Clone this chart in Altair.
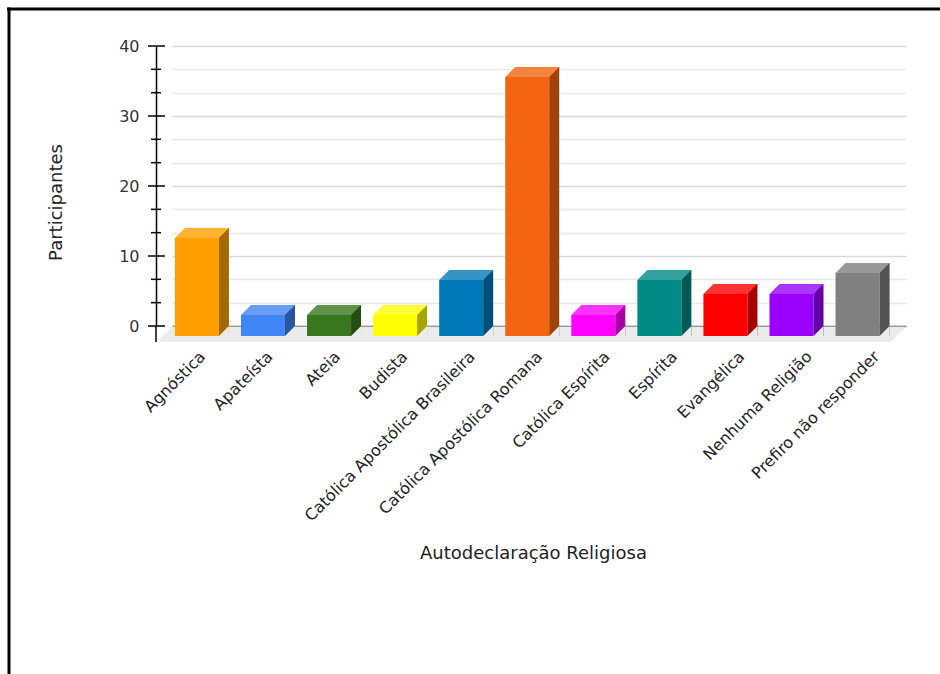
import altair as alt
import pandas as pd

categories = ["Agnóstica", "Apateísta", "Ateia", "Budista",
              "Católica Apostólica Brasileira", "Católica Apostólica Romana",
              "Católica Espírita", "Espírita", "Evangélica",
              "Nenhuma Religião", "Prefiro não responder"]
participants = [14, 3, 3, 3, 8, 37, 3, 8, 6, 6, 9]
major_ticks = [0, 10, 20, 30, 40]
minor_ticks = [10/3, 20/3, 40/3, 50/3, 70/3, 80/3, 100/3, 110/3]

front_colors = ["#FFA000", "#4285F4", "#38761D", "#FFFF00", "#0079B9", "#F46511",
                "#FF00FF", "#008B85", "#FF0000", "#9900FF", "#808080"]


def mix(hexc, f, target):
    h = hexc.lstrip("#")
    rgb = [int(h[i:i + 2], 16) for i in (0, 2, 4)]
    out = [round(c * (1 - f) + target * f) for c in rgb]
    return "#" + "".join(f"{c:02X}" for c in out)


top_colors = [mix(c, 0.2, 255) for c in front_colors]
side_colors = [mix(c, 0.35, 0) for c in front_colors]

FONT = "DejaVu Sans"
W, H = 734, 280
PL, PT = 172, 46
FLOOR = "#EBEBEB"

df = pd.DataFrame({"cat": categories, "v": participants, "base": [0] * len(categories)})
major_df = pd.DataFrame({"t": major_ticks})
minor_df = pd.DataFrame({"t": minor_ticks})
one = pd.DataFrame({"a": [0]})

xscale = alt.Scale(type="band", domain=categories, paddingInner=0.334,
                   paddingOuter=0.222, align=0.44)
label_scale = alt.Scale(type="point", domain=categories, padding=0.445, align=0.41)
yscale = alt.Scale(domain=[0, 40], nice=False)

x_axis = alt.Axis(orient="bottom", title="Autodeclaração Religiosa", labelAngle=-45,
                  labelFontSize=16, labelFont=FONT, labelColor="#222222", ticks=False,
                  labelPadding=22, labelLimit=400, domain=True, domainColor="#7A7A7A",
                  domainWidth=1.5, titleFont=FONT, titleFontSize=18,
                  titleFontWeight="normal", titleColor="#222222", titleX=361, titleY=232,
                  titleBaseline="alphabetic", titleAlign="center", grid=False)

y_axis = alt.Axis(title="Participantes", values=major_ticks + minor_ticks,
                  labelExpr="datum.value % 10 === 0 ? datum.label : ''",
                  offset=16, ticks=False, labelPadding=17, labelFontSize=16,
                  labelFont=FONT, labelColor="#333333", labelFlush=False,
                  labelOverlap=False, domainColor="#000000", domainWidth=1.5,
                  grid=True,
                  gridColor={"condition": {"test": "datum.value % 10 === 0", "value": "#D9D9D9"},
                             "value": "#E8E8E8"},
                  gridWidth=1.5,
                  titleFont=FONT, titleFontSize=18, titleFontWeight="normal",
                  titleColor="#222222", titleAngle=270, titleX=-95, titleY=156,
                  titleBaseline="alphabetic", titleAlign="center")

X = alt.X("cat:N", scale=xscale, axis=None, sort=categories)
Y = alt.Y("v:Q", scale=yscale, axis=y_axis)

labels = alt.Chart(df).mark_point(opacity=0, size=1).encode(
    x=alt.X("cat:N", scale=label_scale, axis=x_axis, sort=categories), y=Y)

floor = alt.Chart(one).mark_point(
    shape="M0,0.75L734,0.75L719,15.75L-15,15.75Z", size=4, filled=True,
    color=FLOOR, opacity=1, strokeWidth=0
).encode(x=alt.value(0), y=alt.value(H))

axis_ext = alt.Chart(one).mark_rule(color="black", strokeWidth=1.5).encode(
    x=alt.value(-16), y=alt.value(H), y2=alt.value(H + 16))

major_rules = alt.Chart(major_df).mark_rule(color="black", strokeWidth=1.5).encode(
    y=alt.Y("t:Q", scale=yscale, axis=y_axis), x=alt.value(-24), x2=alt.value(-7))
minor_rules = alt.Chart(minor_df).mark_rule(color="black", strokeWidth=1.5).encode(
    y=alt.Y("t:Q", scale=yscale, axis=y_axis), x=alt.value(-21), x2=alt.value(-11))

front = alt.Chart(df).mark_bar(size=44, xOffset=-10, yOffset=10, y2Offset=10,
                               strokeWidth=0).encode(
    x=X, y=Y, y2="base:Q",
    color=alt.Color("cat:N", scale=alt.Scale(domain=categories, range=front_colors), legend=None))

side = alt.Chart(df).mark_bar(size=10, xOffset=17, yOffset=0, y2Offset=10,
                              strokeWidth=0).encode(
    x=X, y=Y, y2="base:Q",
    color=alt.Color("cat:N", scale=alt.Scale(domain=categories, range=side_colors), legend=None))

side_fix = alt.Chart(df).mark_point(shape="M22,0L22,10L12,10Z", size=4, filled=True,
                                    color=FLOOR, opacity=1, strokeWidth=0).encode(
    x=X, y=alt.Y("base:Q", scale=yscale, axis=y_axis))

top = alt.Chart(df).mark_point(shape="M-22,0L22,0L12,10L-32,10Z", size=4, filled=True,
                               opacity=1, strokeWidth=0).encode(
    x=X, y=Y,
    color=alt.Color("cat:N", scale=alt.Scale(domain=categories, range=top_colors), legend=None))

border_top = alt.Chart(one).mark_rule(color="black", strokeWidth=3).encode(
    x=alt.value(7 - PL), x2=alt.value(940 - PL), y=alt.value(9 - PT))
border_left = alt.Chart(one).mark_rule(color="black", strokeWidth=3).encode(
    x=alt.value(9 - PL), y=alt.value(7.5 - PT), y2=alt.value(674 - PT))

chart = alt.layer(
    labels, floor, axis_ext, major_rules, minor_rules, front, side, side_fix, top,
    border_top, border_left
).resolve_scale(color="independent", x="independent").properties(
    width=W, height=H,
    padding={"left": PL, "top": PT, "right": 940 - PL - W, "bottom": 674 - PT - H},
    autosize=alt.AutoSizeParams(type="none"),
    background="white"
).configure_view(strokeWidth=0)

chart.save("out.html", embed_options={"renderer": "svg", "actions": False})
